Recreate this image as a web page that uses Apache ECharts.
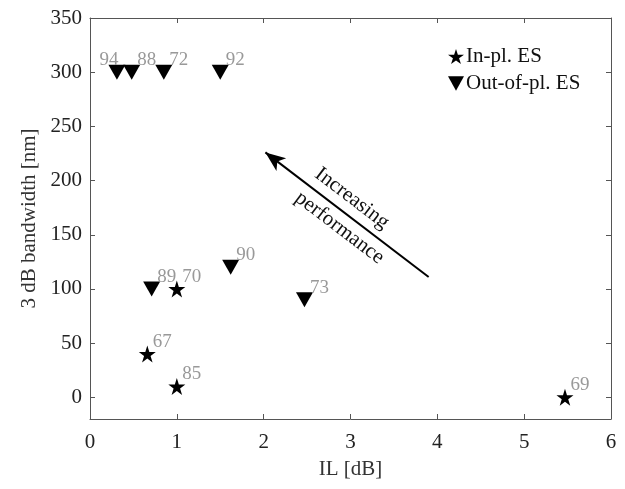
<!DOCTYPE html>
<html>
<head>
<meta charset="utf-8">
<script src="https://cdn.jsdelivr.net/npm/echarts@6/dist/echarts.min.js"></script>
<style>
html,body{margin:0;padding:0;background:#fff;}
#chart{width:625px;height:489px;}
</style>
</head>
<body>
<div id="chart"></div>
<script>
// ---- data ----
var inPlaneIL    = [1.0, 0.66, 1.0, 5.47];
var inPlaneBW    = [100, 40, 10, 0];
var inPlaneRef   = ['70', '67', '85', '69'];

var outPlaneIL   = [0.31, 0.48, 0.85, 1.50, 0.71, 1.62, 2.47];
var outPlaneBW   = [300, 300, 300, 300, 100, 120, 90];
var outPlaneRef  = ['94', '88', '72', '92', '89', '90', '73'];

var yTicks = [0, 50, 100, 150, 200, 250, 300, 350];
var arrowStart = [3.9, 111];
var arrowEnd   = [2.02, 226];
var annotTop = 'Increasing';
var annotBottom = 'performance';

var FONT = "'Liberation Serif', 'Times New Roman', serif";
var STAR = 'path://M50,0 L61.2,34.5 L97.6,34.5 L68.2,55.9 L79.4,90.5 L50,69.1 L20.6,90.5 L31.8,55.9 L2.4,34.5 L38.8,34.5 Z';

function buildData(xs, ys, refs) {
  return xs.map(function (x, i) {
    var item = { value: [x, ys[i]], name: refs[i] };
    if (refs[i] === '94') {
      item.label = { offset: [-26, -12] };
    }
    return item;
  });
}

var labelStyle = {
  show: true,
  position: 'right',
  distance: 0,
  offset: [-3, -12],
  color: '#999999',
  fontFamily: FONT,
  fontSize: 19,
  formatter: function (p) { return p.name; }
};

var axisLineStyle = { color: '#555', width: 1 };

var chart = echarts.init(document.getElementById('chart'), null, { renderer: 'canvas' });

var option = {
  animation: false,
  backgroundColor: '#fff',
  grid: { left: 90, right: 14, top: 18, bottom: 70, containLabel: false },
  legend: {
    orient: 'vertical',
    left: 443,
    top: 41,
    itemWidth: 16,
    itemHeight: 16,
    itemGap: 6,
    textStyle: { fontFamily: FONT, fontSize: 21, color: '#111', padding: [0, 0, 0, -3] },
    data: [
      { name: 'In-pl. ES', icon: STAR },
      { name: 'Out-of-pl. ES', icon: 'path://M0,0 L100,0 L50,90 Z' }
    ]
  },
  xAxis: [{
    type: 'value', min: 0, max: 6, interval: 1,
    name: 'IL [dB]', nameLocation: 'middle', nameGap: 40,
    nameTextStyle: { fontFamily: FONT, fontSize: 21, color: '#333' },
    axisLine: { show: true, onZero: false, lineStyle: axisLineStyle },
    axisTick: { show: true, inside: true, length: 5, lineStyle: axisLineStyle },
    axisLabel: { fontFamily: FONT, fontSize: 21, color: '#222', margin: 13 },
    splitLine: { show: false }
  }, {
    type: 'value', min: 0, max: 6, interval: 1, position: 'top',
    axisLine: { show: true, onZero: false, lineStyle: axisLineStyle },
    axisTick: { show: true, inside: true, length: 5, lineStyle: axisLineStyle },
    axisLabel: { show: false },
    splitLine: { show: false }
  }],
  yAxis: [{
    type: 'value', min: -20, max: 350,
    name: '3 dB bandwidth [nm]', nameLocation: 'middle', nameGap: 49,
    nameTextStyle: { fontFamily: FONT, fontSize: 21, color: '#333' },
    axisLine: { show: true, onZero: false, lineStyle: axisLineStyle },
    axisTick: { show: true, inside: true, length: 5, lineStyle: axisLineStyle, customValues: yTicks },
    axisLabel: { fontFamily: FONT, fontSize: 21, color: '#222', margin: 8, customValues: yTicks },
    splitLine: { show: false }
  }, {
    type: 'value', min: -20, max: 350, position: 'right',
    axisLine: { show: true, onZero: false, lineStyle: axisLineStyle },
    axisTick: { show: true, inside: true, length: 5, lineStyle: axisLineStyle, customValues: yTicks },
    axisLabel: { show: false, customValues: yTicks },
    splitLine: { show: false }
  }],
  series: [{
    name: 'In-pl. ES',
    type: 'scatter',
    symbol: STAR,
    symbolSize: 17,
    itemStyle: { color: '#000', opacity: 1 },
    label: labelStyle,
    data: buildData(inPlaneIL, inPlaneBW, inPlaneRef),
    z: 3
  }, {
    name: 'Out-of-pl. ES',
    type: 'scatter',
    symbol: 'triangle',
    symbolRotate: 180,
    symbolSize: [17, 15],
    itemStyle: { color: '#000', opacity: 1 },
    label: labelStyle,
    data: buildData(outPlaneIL, outPlaneBW, outPlaneRef),
    z: 3,
    markLine: {
      silent: true,
      symbol: ['none', 'arrow'],
      symbolSize: [12, 20],
      label: { show: false },
      lineStyle: { color: '#000', width: 2, type: 'solid', opacity: 1 },
      emphasis: { disabled: true },
      data: [[{ coord: arrowStart }, { coord: arrowEnd }]]
    }
  }]
};

chart.setOption(option);

var p0 = chart.convertToPixel({ gridIndex: 0 }, arrowStart);
var p1 = chart.convertToPixel({ gridIndex: 0 }, arrowEnd);
var mx = (p0[0] + p1[0]) / 2, my = (p0[1] + p1[1]) / 2;
var ang = Math.atan2(p0[1] - p1[1], p0[0] - p1[0]); // down-right direction
var ux = Math.cos(ang), uy = Math.sin(ang);
var nx = uy, ny = -ux; // perpendicular pointing up-right
function at(along, perp) { return [mx + ux * along + nx * perp, my + uy * along + ny * perp]; }
var tPos = at(-6, 16), bPos = at(2, -15);

chart.setOption({
  graphic: [{
    type: 'text', x: tPos[0], y: tPos[1], rotation: -ang,
    style: { text: annotTop, fontFamily: FONT, fontSize: 21, fill: '#111', align: 'center', verticalAlign: 'middle' }
  }, {
    type: 'text', x: bPos[0], y: bPos[1], rotation: -ang,
    style: { text: annotBottom, fontFamily: FONT, fontSize: 21, fill: '#111', align: 'center', verticalAlign: 'middle' }
  }]
});
</script>
</body>
</html>
